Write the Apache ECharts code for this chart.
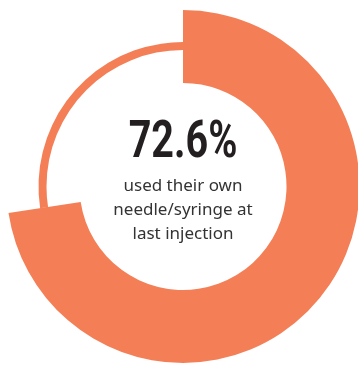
<!DOCTYPE html>
<html>
<head>
<meta charset="utf-8">
<script src="https://cdn.jsdelivr.net/npm/echarts@6/dist/echarts.min.js"></script>
<style>
html,body{margin:0;padding:0;background:#fff;}
#c{width:358px;height:365px;}
</style>
</head>
<body>
<div id="c"></div>
<script>
var categories = ['Used own needle/syringe', 'Other'];
var values = [72.6, 27.4];
var headline = '72.6%';
var caption = 'used their own\nneedle/syringe at\nlast injection';

var ORANGE = '#F47F56';
var chart = echarts.init(document.getElementById('c'), null, {renderer: 'canvas'});
chart.setOption({
  animation: false,
  backgroundColor: '#ffffff',
  series: [
    {
      type: 'pie',
      center: [183, 186.5],
      radius: [136.5, 144.5],
      startAngle: 90,
      clockwise: true,
      silent: true,
      label: {show: false},
      labelLine: {show: false},
      z: 1,
      data: categories.map(function (c, i) {
        return {name: c, value: values[i], itemStyle: {color: ORANGE}};
      })
    },
    {
      type: 'pie',
      center: [183, 186.5],
      radius: [103.5, 176.5],
      startAngle: 90,
      clockwise: true,
      silent: true,
      label: {show: false},
      labelLine: {show: false},
      z: 2,
      data: categories.map(function (c, i) {
        return {name: c, value: values[i], itemStyle: {color: i === 0 ? ORANGE : 'rgba(0,0,0,0)'}};
      })
    }
  ],
  graphic: [
    {
      type: 'text',
      x: 183, y: 144,
      scaleX: 0.76,
      style: {
        text: headline,
        fill: '#231f20',
        fontFamily: 'Roboto',
        fontWeight: 'bold',
        fontSize: 52,
        textAlign: 'center',
        textVerticalAlign: 'middle'
      }
    },
    {
      type: 'text',
      x: 183, y: 210,
      style: {
        text: caption,
        fill: '#333333',
        fontFamily: '"Noto Sans"',
        fontSize: 17,
        lineHeight: 24,
        textAlign: 'center',
        textVerticalAlign: 'middle'
      }
    }
  ]
});
</script>
</body>
</html>
